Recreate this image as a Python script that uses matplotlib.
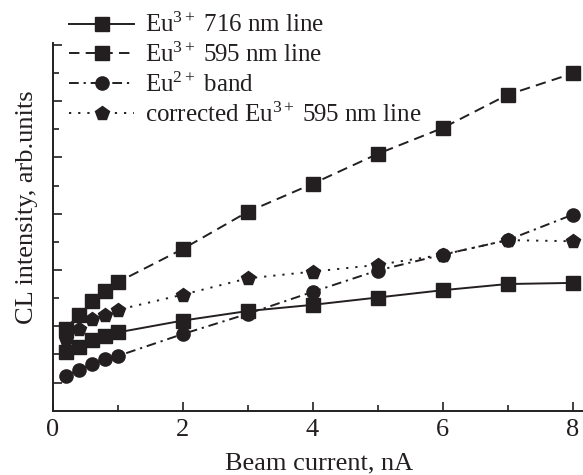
import matplotlib
matplotlib.use('Agg')
import matplotlib.pyplot as plt
from matplotlib.ticker import FixedLocator, NullFormatter

# ---- data (arbitrary units) ----
beam_current = [0.2, 0.4, 0.6, 0.8, 1.0, 2, 3, 4, 5, 6, 7, 8]
eu3_716 = [1.04, 1.14, 1.26, 1.33, 1.39, 1.60, 1.77, 1.88, 2.01, 2.14, 2.25, 2.27]
eu3_595 = [1.45, 1.70, 1.95, 2.13, 2.28, 2.87, 3.53, 4.03, 4.56, 5.02, 5.61, 5.99]
eu2_band = [0.62, 0.72, 0.83, 0.92, 0.97, 1.36, 1.72, 2.11, 2.49, 2.77, 3.03, 3.48]
eu3_595_corr = [1.27, 1.46, 1.62, 1.70, 1.79, 2.06, 2.35, 2.47, 2.59, 2.77, 3.03, 3.01]

labels = [r'Eu$^{3+}$ 716 nm line',
          r'Eu$^{3+}$ 595 nm line',
          r'Eu$^{2+}$ band',
          r'corrected Eu$^{3+}$ 595 nm line']
x_ticks = [0, 2, 4, 6, 8]
x_label = 'Beam current, nA'
y_label = 'CL intensity, arb.units'

plt.rcParams['font.family'] = ['Liberation Serif', 'DejaVu Serif']
plt.rcParams['mathtext.fontset'] = 'custom'
plt.rcParams['mathtext.rm'] = 'Liberation Serif'
plt.rcParams['mathtext.it'] = 'Liberation Serif:italic'
plt.rcParams['lines.scale_dashes'] = False

ink = '#231f20'
W, H = 583, 475
fig = plt.figure(figsize=(W / 100, H / 100), dpi=100)
left_px, right_px, top_px, bot_px = 52.5, 583, 43.3, 410.7
ax = fig.add_axes([left_px / W, (H - bot_px) / H,
                   (right_px - left_px) / W, (bot_px - top_px) / H])

lw = 1.4
ms = 9.5
ax.plot(beam_current, eu3_716, color=ink, lw=lw, linestyle='-',
        marker='s', ms=ms, label=labels[0], clip_on=False)
ax.plot(beam_current, eu3_595, color=ink, lw=lw, linestyle=(0, (7.5, 4.5)),
        marker='s', ms=ms, label=labels[1], clip_on=False)
ax.plot(beam_current, eu2_band, color=ink, lw=lw, linestyle=(0, (7, 3.5, 1.6, 3.5)),
        marker='o', ms=ms, label=labels[2], clip_on=False)
ax.plot(beam_current, eu3_595_corr, color=ink, lw=lw, linestyle=(0, (1.6, 5)),
        marker='p', ms=ms + 1.2, label=labels[3], clip_on=False)

ax.set_xlim(0, (right_px - left_px) / 65.0)
ax.set_ylim(0, (bot_px - top_px) / 56.3)

ax.xaxis.set_major_locator(FixedLocator(x_ticks))
ax.xaxis.set_minor_locator(FixedLocator([1, 3, 5, 7]))
ax.yaxis.set_major_locator(FixedLocator([0.5 + i for i in range(7)]))
ax.yaxis.set_minor_locator(FixedLocator([1 + i for i in range(6)]))
ax.yaxis.set_major_formatter(NullFormatter())

ax.tick_params(which='both', direction='in', color=ink, width=1.2)
ax.tick_params(which='major', length=6.5)
ax.tick_params(which='minor', length=4.3)
ax.tick_params(axis='x', labelsize=19, pad=6, labelcolor=ink)

for s in ['top', 'right']:
    ax.spines[s].set_visible(False)
for s in ['left', 'bottom']:
    ax.spines[s].set_linewidth(1.4)
    ax.spines[s].set_color(ink)

fig.text(319 / W, 1 - 463 / H, x_label, ha='center', va='center',
         fontsize=19, color=ink)
fig.text(27 / W, 1 - 207 / H, y_label, ha='center', va='center',
         rotation=90, fontsize=19, color=ink)

leg = ax.legend(loc='upper left', bbox_to_anchor=(69 / W, 1 - 13 / H),
                bbox_transform=fig.transFigure, frameon=False, fontsize=18,
                borderpad=0, handlelength=2.6, handletextpad=0.45,
                labelspacing=0.22, numpoints=1, borderaxespad=0)
for t in leg.get_texts():
    t.set_color(ink)

fig.savefig('out.png', dpi=100)
